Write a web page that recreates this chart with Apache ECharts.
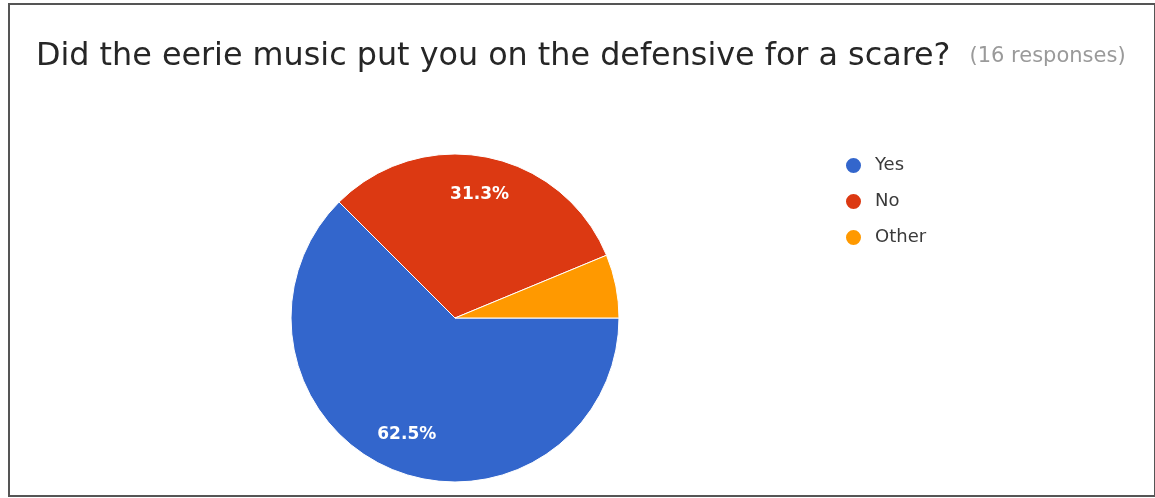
<!DOCTYPE html>
<html>
<head>
<meta charset="utf-8">
<script src="https://cdn.jsdelivr.net/npm/echarts@6/dist/echarts.min.js"></script>
<style>
  html, body { margin: 0; padding: 0; background: #ffffff; }
  #chart { width: 1155px; height: 498px; }
</style>
</head>
<body>
<div id="chart"></div>
<script>
// Survey answers
const answers = ['Yes', 'No', 'Other'];
const counts = [10, 5, 1];
const sliceColors = ['#3366cc', '#dc3912', '#ff9900'];
const questionText = 'Did the eerie music put you on the defensive for a scare?';
const responsesText = '(16 responses)';

const total = counts.reduce((a, b) => a + b, 0);
const pieData = answers.map((name, i) => ({
  name,
  value: counts[i],
  itemStyle: { color: sliceColors[i] }
}));

const chart = echarts.init(document.getElementById('chart'), null, { renderer: 'canvas' });

const center = [455, 318];
const radius = 164;
const font = 'DejaVu Sans';

chart.setOption({
  animation: false,
  backgroundColor: '#ffffff',
  title: {
    left: 31,
    top: 34,
    text: '{q|' + questionText + '}{r|' + responsesText + '}',
    textStyle: {
      fontWeight: 'normal',
      rich: {
        q: { fontFamily: font, fontSize: 31.8, fontWeight: 'normal', color: '#262626', verticalAlign: 'middle', lineHeight: 36 },
        r: { fontFamily: font, fontSize: 21, fontWeight: 'normal', color: '#9a9a9a', verticalAlign: 'middle', lineHeight: 32, padding: [0, 0, 0, 19] }
      }
    }
  },
  legend: {
    orient: 'vertical',
    left: 839,
    top: 151,
    itemWidth: 17,
    itemHeight: 17,
    itemGap: 17,
    icon: 'circle',
    data: answers.map((name, i) => ({ name, itemStyle: { color: sliceColors[i] } })),
    textStyle: { fontFamily: font, fontSize: 18, lineHeight: 18, color: '#3a3a3a', padding: [0, 0, 0, 8] }
  },
  graphic: [{
    type: 'rect',
    shape: { x: 9, y: 4, width: 1146, height: 492 },
    style: { fill: 'none', stroke: '#555555', lineWidth: 2 },
    z: 100
  }],
  series: [
    {
      type: 'pie',
      center: center,
      radius: radius,
      startAngle: 0,
      clockwise: true,
      avoidLabelOverlap: false,
      label: { show: false },
      labelLine: { show: false },
      itemStyle: { borderColor: '#ffffff', borderWidth: 1 },
      data: pieData
    },
    {
      // percentage labels placed at three quarters of the radius
      type: 'pie',
      center: center,
      radius: [radius / 2, radius],
      startAngle: 0,
      clockwise: true,
      silent: true,
      legendHoverLink: false,
      avoidLabelOverlap: false,
      itemStyle: { color: 'rgba(0,0,0,0)' },
      labelLine: { show: false },
      label: {
        show: true,
        position: 'inside',
        color: '#ffffff',
        fontFamily: font,
        fontWeight: 'bold',
        fontSize: 17,
        formatter: p => (p.value / total >= 0.1 ? (p.value / total * 100).toFixed(1) + '%' : '')
      },
      data: answers.map((name, i) => ({ name, value: counts[i], itemStyle: { color: 'rgba(0,0,0,0)' } }))
    }
  ]
});
</script>
</body>
</html>
